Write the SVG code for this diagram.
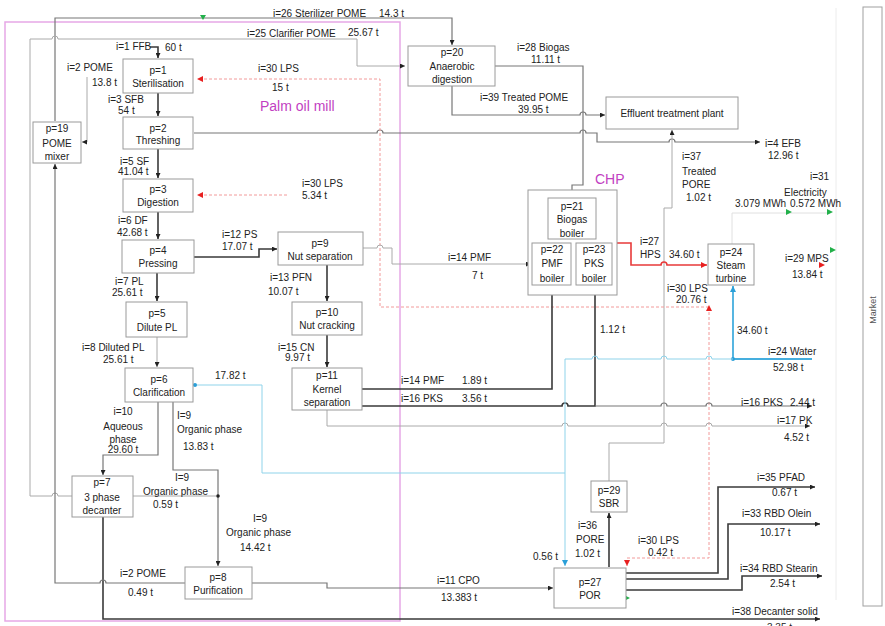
<svg xmlns="http://www.w3.org/2000/svg" width="885" height="626" viewBox="0 0 885 626">
<style>
text{font-family:"Liberation Sans",Arial,sans-serif;font-size:10px;fill:#222}
.c{text-anchor:middle}
.n rect{fill:#fff;stroke:#9a9a9a;stroke-width:1}
.l{fill:none;stroke:#777;stroke-width:1.2}
.ll{fill:none;stroke:#aaa;stroke-width:1}
.ld{fill:none;stroke:#3a3a3a;stroke-width:1.6}
.cy{fill:none;stroke:#8fd3ea;stroke-width:1}
.cyt{fill:none;stroke:#45aede;stroke-width:1.8}
.rd{fill:none;stroke:#e83a3a;stroke-width:1.6}
.rdd{fill:none;stroke:#f29a9a;stroke-width:1;stroke-dasharray:3 2}
.mag{fill:#c23fc2;font-size:14px}
</style>
<defs>
<marker id="a" viewBox="0 0 6 6" refX="6" refY="3" markerWidth="5" markerHeight="5" markerUnits="userSpaceOnUse" orient="auto"><path d="M0,0L6,3L0,6z" fill="#222"/></marker>
<marker id="ar" viewBox="0 0 6 6" refX="6" refY="3" markerWidth="6" markerHeight="6" markerUnits="userSpaceOnUse" orient="auto"><path d="M0,0L6,3L0,6z" fill="#e82020"/></marker>
<marker id="ac" viewBox="0 0 6 6" refX="6" refY="3" markerWidth="6" markerHeight="6" markerUnits="userSpaceOnUse" orient="auto"><path d="M0,0L6,3L0,6z" fill="#2a9fd8"/></marker>
</defs>

<!-- boundaries -->
<rect x="5" y="22" width="395" height="599" fill="none" stroke="#e6a8e6" stroke-width="1.5"/>
<line x1="836" y1="8" x2="836" y2="600" stroke="#ececec" stroke-width="1"/>
<rect x="863" y="7" width="19" height="599" fill="none" stroke="#a0a0a0" stroke-width="1"/>
<text x="876" y="310" class="c" transform="rotate(-90 876 310)" style="font-size:9px;fill:#555">Market</text>
<text x="260" y="111" class="mag">Palm oil mill</text>
<text x="595" y="184" class="mag">CHP</text>

<g id="connectors">
<path class="l" d="M55,121V18H452V45" marker-end="url(#a)"/>
<path class="ll" d="M72,496H58a3,3 0 0 0 -6,0H30V39H52a3,3 0 0 1 6,0H357V66H405" marker-end="url(#a)"/>
<path class="ld" d="M150,47H158V58" marker-end="url(#a)"/>
<path class="ll" d="M87,77V142H82" marker-end="url(#a)"/>
<path class="ld" d="M158,93V116" marker-end="url(#a)"/>
<path class="ld" d="M158,149V178" marker-end="url(#a)"/>
<path class="ld" d="M158,212V239" marker-end="url(#a)"/>
<path class="ld" d="M157,273V301" marker-end="url(#a)"/>
<path class="ll" d="M157,337V367" marker-end="url(#a)"/>
<path class="l" d="M194,133H377a3,3 0 0 1 6,0H580a3,3 0 0 1 6,0H597V142H669a3,3 0 0 1 6,0H760" marker-end="url(#a)"/>
<path class="l" d="M452,86V115H580a3,3 0 0 1 6,0H605" marker-end="url(#a)"/>
<path class="l" d="M495,66H583V185H572V197" marker-end="url(#a)"/>
<path class="ll" d="M609,481V443H664V208H672V130" marker-end="url(#a)"/>
<path class="rdd" d="M709,307H380V79H197" marker-end="url(#ar)"/>
<path class="rdd" d="M287,195H197" marker-end="url(#ar)"/>
<path class="rdd" d="M709,307V558H627V566" marker-end="url(#ar)"/>
<path d="M706,311L709,305L712,311z" fill="#e82020"/>
<path class="rd" d="M617,243H631V265H661a3,3 0 0 1 6,0H707" marker-end="url(#ar)"/>
<path class="ld" d="M194,257H259V249H277" marker-end="url(#a)"/>
<path class="ld" d="M327,265V301" marker-end="url(#a)"/>
<path class="ld" d="M327,335V367" marker-end="url(#a)"/>
<path class="ll" d="M362,248H377a3,3 0 0 1 6,0H392V264H531" marker-end="url(#a)"/>
<path class="ld" d="M362,389H552V286" marker-end="url(#a)"/>
<path class="ld" d="M362,406H562a3,3 0 0 1 6,0H595V286" marker-end="url(#a)"/>
<path class="l" d="M595,406H661a3,3 0 0 1 6,0H706a3,3 0 0 1 6,0H812" marker-end="url(#a)"/>
<path class="ll" d="M327,410V426H562a3,3 0 0 1 6,0H661a3,3 0 0 1 6,0H706a3,3 0 0 1 6,0H810" marker-end="url(#a)"/>
<path class="cyt" d="M812,359H733V286" marker-end="url(#ac)"/>
<circle cx="733" cy="359" r="2" fill="#2a9fd8"/>
<path class="cy" d="M733,359H712a3,3 0 0 0 -6,0H667a3,3 0 0 0 -6,0H598a3,3 0 0 0 -6,0H565V566" marker-end="url(#ac)"/>
<path class="cy" d="M565,473H262V385H196"/>
<circle cx="195" cy="385" r="2" fill="#2a9fd8"/>
<path class="l" d="M158,402V455H103V475" marker-end="url(#a)"/>
<path class="l" d="M173,402V470H218V566" marker-end="url(#a)"/>
<path class="ll" d="M133,496H216"/>
<circle cx="218" cy="496" r="1.8" fill="#222"/>
<path class="ld" d="M103,517V619H820" marker-end="url(#a)"/>
<path class="l" d="M185,583H106a3,3 0 0 0 -6,0H55V164" marker-end="url(#a)"/>
<path class="l" d="M252,583H327V588H553" marker-end="url(#a)"/>
<path class="ld" d="M626,573H718V487H815" marker-end="url(#a)"/>
<path class="ld" d="M626,579H728V524H820" marker-end="url(#a)"/>
<path class="ld" d="M626,590H742V576H822" marker-end="url(#a)"/>
<path class="ld" d="M609,567V513" marker-end="url(#a)"/>
<path d="M732,244V213H829" fill="none" stroke="#e0e0e0" stroke-width="1"/>
<path d="M200,15L206,15L203,20z" fill="#22b04a"/>
<path d="M786,209L792,212L786,215z" fill="#22b04a"/>
<path d="M827,209L833,212L827,215z" fill="#22b04a"/>
<path d="M830,247L836,250L830,253z" fill="#22b04a"/>
<path d="M819,262L825,265L819,268z" fill="#e82020"/>
<path d="M624,595L630,598L624,601z" fill="#22b04a"/>
</g>

<g id="p1" class="n"><rect x="123" y="59" width="70" height="34"/><text x="158" y="73.5" class="c">p=1</text><text x="158" y="86.5" class="c">Sterilisation</text></g>
<g id="p2" class="n"><rect x="123" y="117" width="70" height="32"/><text x="158" y="131.5" class="c">p=2</text><text x="158" y="143.5" class="c">Threshing</text></g>
<g id="p3" class="n"><rect x="123" y="179" width="70" height="33"/><text x="158" y="192.5" class="c">p=3</text><text x="158" y="205.5" class="c">Digestion</text></g>
<g id="p4" class="n"><rect x="122" y="240" width="72" height="33"/><text x="158" y="253.5" class="c">p=4</text><text x="158" y="266.5" class="c">Pressing</text></g>
<g id="p5" class="n"><rect x="126" y="302" width="61" height="35"/><text x="157" y="316.5" class="c">p=5</text><text x="157" y="330.5" class="c">Dilute PL</text></g>
<g id="p6" class="n"><rect x="125" y="368" width="68" height="34"/><text x="159" y="382.5" class="c">p=6</text><text x="159" y="395.5" class="c">Clarification</text></g>
<g id="p19" class="n"><rect x="33" y="122" width="48" height="41"/><text x="57" y="131.5" class="c">p=19</text><text x="57" y="146.5" class="c">POME</text><text x="57" y="159.5" class="c">mixer</text></g>
<g id="p7" class="n"><rect x="72" y="476" width="61" height="41"/><text x="102" y="485.5" class="c">p=7</text><text x="102" y="500.5" class="c">3 phase</text><text x="102" y="513.5" class="c">decanter</text></g>
<g id="p8" class="n"><rect x="185" y="567" width="67" height="32"/><text x="218" y="580.5" class="c">p=8</text><text x="218" y="593.5" class="c">Purification</text></g>
<g id="p9" class="n"><rect x="278" y="232" width="85" height="33"/><text x="320" y="246.5" class="c">p=9</text><text x="320" y="259.5" class="c">Nut separation</text></g>
<g id="p10" class="n"><rect x="292" y="302" width="70" height="33"/><text x="327" y="315.5" class="c">p=10</text><text x="327" y="328.5" class="c">Nut cracking</text></g>
<g id="p11" class="n"><rect x="292" y="368" width="70" height="42"/><text x="327" y="378.5" class="c">p=11</text><text x="327" y="392.5" class="c">Kernel</text><text x="327" y="405.5" class="c">separation</text></g>
<g id="p20" class="n"><rect x="408" y="46" width="87" height="40"/><text x="452" y="55.5" class="c">p=20</text><text x="452" y="69.5" class="c">Anaerobic</text><text x="452" y="82.5" class="c">digestion</text></g>
<g id="etp" class="n"><rect x="606" y="97" width="132" height="32"/><text x="672" y="116.5" class="c">Effluent treatment plant</text></g>
<g id="chp" class="n"><rect x="528" y="190" width="89" height="105"/></g>
<g id="p21" class="n"><rect x="548" y="198" width="48" height="41"/><text x="572" y="209.5" class="c">p=21</text><text x="572" y="222.5" class="c">Biogas</text><text x="572" y="236.5" class="c">boiler</text></g>
<g id="p22" class="n"><rect x="532" y="243" width="39" height="42"/><text x="552" y="252.5" class="c">p=22</text><text x="552" y="266.5" class="c">PMF</text><text x="552" y="281.5" class="c">boiler</text></g>
<g id="p23" class="n"><rect x="576" y="243" width="36" height="42"/><text x="594" y="252.5" class="c">p=23</text><text x="594" y="266.5" class="c">PKS</text><text x="594" y="281.5" class="c">boiler</text></g>
<g id="p24" class="n"><rect x="708" y="244" width="46" height="41"/><text x="731" y="255.5" class="c">p=24</text><text x="731" y="268.5" class="c">Steam</text><text x="731" y="281.5" class="c">turbine</text></g>
<g id="p29" class="n"><rect x="591" y="481" width="36" height="31"/><text x="609" y="493.5" class="c">p=29</text><text x="609" y="506.5" class="c">SBR</text></g>
<g id="p27" class="n"><rect x="554" y="568" width="72" height="40"/><text x="590" y="585.5" class="c">p=27</text><text x="590" y="598.5" class="c">POR</text></g>

<g id="labels">
<text x="273" y="16.5">i=26 Sterilizer POME</text><text x="379" y="16.5">14.3 t</text>
<text x="247" y="36.5">i=25 Clarifier POME</text><text x="348" y="35.5">25.67 t</text>
<text x="116" y="50">i=1 FFB</text><text x="165" y="50.5">60 t</text>
<text x="67" y="70.5">i=2 POME</text><text x="92" y="85.5">13.8 t</text>
<text x="108" y="102.5">i=3 SFB</text><text x="118" y="113.5">54 t</text>
<text x="120" y="164.5">i=5 SF</text><text x="118" y="174.5">41.04 t</text>
<text x="118" y="223.5">i=6 DF</text><text x="117" y="235.5">42.68 t</text>
<text x="115" y="284.5">i=7 PL</text><text x="112" y="295.5">25.61 t</text>
<text x="82" y="350.5">i=8 Diluted PL</text><text x="103" y="362.5">25.61 t</text>
<text x="215" y="378.5">17.82  t</text>
<text x="222" y="237.5">i=12 PS</text><text x="222" y="249.5">17.07 t</text>
<text x="270" y="280.5">i=13 PFN</text><text x="268" y="294.5">10.07 t</text>
<text x="278" y="350.5">i=15 CN</text><text x="285" y="360.5">9.97 t</text>
<text x="123" y="414.5" class="c">i=10</text><text x="123" y="429.5" class="c">Aqueous</text><text x="123" y="442.5" class="c">phase</text><text x="123" y="452.5" class="c">29.60 t</text>
<text x="177" y="418.5">I=9</text><text x="177" y="433">Organic phase</text><text x="183" y="449.5">13.83 t</text>
<text x="175" y="480.5">I=9</text><text x="143" y="494.5">Organic phase</text><text x="153" y="507.5">0.59 t</text>
<text x="253" y="521.5">I=9</text><text x="226" y="535.5">Organic phase</text><text x="240" y="550.5">14.42 t</text>
<text x="120" y="576.5">i=2 POME</text><text x="128" y="595.5">0.49 t</text>
<text x="437" y="583.5">i=11 CPO</text><text x="441" y="600.5">13.383 t</text>
<text x="258" y="71.5">i=30 LPS</text><text x="272" y="90.5">15 t</text>
<text x="302" y="186.5">i=30 LPS</text><text x="302" y="198.5">5.34 t</text>
<text x="517" y="50.5">i=28 Biogas</text><text x="531" y="62.5">11.11 t</text>
<text x="480" y="100.5">i=39 Treated POME</text><text x="518" y="112.5">39.95 t</text>
<text x="765" y="146.5">i=4 EFB</text><text x="768" y="158.5">12.96 t</text>
<text x="682" y="159.5">i=37</text><text x="682" y="174.5">Treated</text><text x="682" y="187.5">PORE</text><text x="686" y="200.5">1.02 t</text>
<text x="810" y="179.5">i=31</text><text x="784" y="195.5">Electricity</text><text x="735" y="206.5">3.079 MWh</text><text x="790" y="206.5">0.572 MWh</text>
<text x="640" y="244.5">i=27</text><text x="640" y="257.5">HPS</text><text x="669" y="257.5">34.60 t</text>
<text x="667" y="291.5">i=30 LPS</text><text x="676" y="302.5">20.76 t</text>
<text x="785" y="261.5">i=29 MPS</text><text x="792" y="277.5">13.84 t</text>
<text x="600" y="332.5">1.12 t</text>
<text x="737" y="333.5">34.60 t</text>
<text x="768" y="354.5">i=24 Water</text><text x="773" y="370.5">52.98 t</text>
<text x="741" y="405.5">i=16 PKS</text><text x="790" y="405.5">2.44 t</text>
<text x="777" y="423.5">i=17 PK</text><text x="784" y="440.5">4.52 t</text>
<text x="448" y="260.5">i=14 PMF</text><text x="472" y="278.5">7 t</text>
<text x="401" y="383.5">i=14 PMF</text><text x="462" y="383.5">1.89 t</text>
<text x="401" y="401.5">i=16 PKS</text><text x="462" y="401.5">3.56 t</text>
<text x="533" y="559.5">0.56 t</text>
<text x="578" y="528.5">i=36</text><text x="576" y="542.5">PORE</text><text x="575" y="556.5">1.02 t</text>
<text x="638" y="543.5">i=30 LPS</text><text x="648" y="555.5">0.42 t</text>
<text x="757" y="480.5">i=35 PFAD</text><text x="772" y="495.5">0.67 t</text>
<text x="742" y="516.5">i=33 RBD Olein</text><text x="760" y="535.5">10.17 t</text>
<text x="740" y="571.5">i=34 RBD Stearin</text><text x="770" y="586.5">2.54 t</text>
<text x="732" y="614.5">i=38 Decanter solid</text><text x="767" y="631">3.35 t</text>
</g>
</svg>
